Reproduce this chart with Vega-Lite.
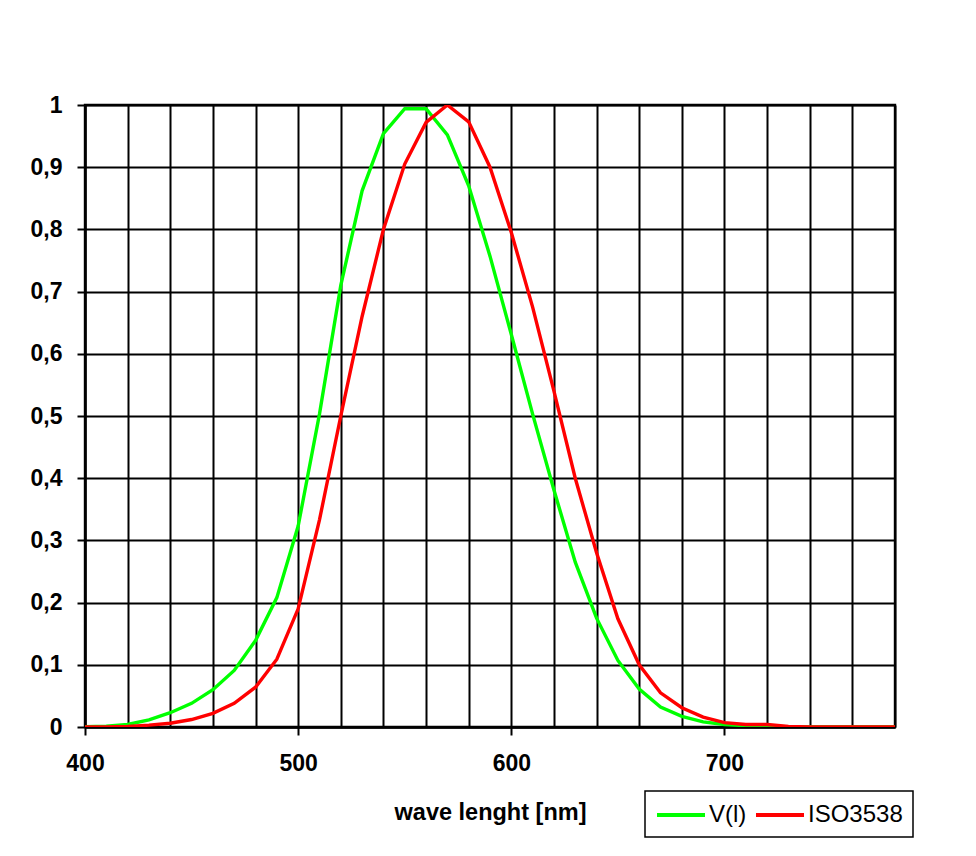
{
  "$schema": "https://vega.github.io/schema/vega-lite/v6.json",
  "width": 810,
  "height": 622,
  "autosize": "none",
  "padding": {"left": 85, "top": 105, "right": 81, "bottom": 129},
  "background": "white",
  "config": {
    "font": "Liberation Sans",
    "view": {"stroke": "black", "strokeWidth": 2.4, "fill": "white"},
    "axis": {
      "domainColor": "black",
      "domainWidth": 2.4,
      "gridColor": "black",
      "gridWidth": 2,
      "gridOpacity": 1,
      "tickColor": "black",
      "tickWidth": 2,
      "tickSize": 8,
      "labelFont": "Liberation Sans",
      "labelFontWeight": "bold",
      "labelFontSize": 23,
      "labelColor": "black",
      "titleFont": "Liberation Sans",
      "titleFontWeight": "bold",
      "titleFontSize": 23.5,
      "titleColor": "black"
    }
  },
  "data": {
    "values": [
      {"wl": 400, "series": "V(l)", "v": 0.0004},
      {"wl": 410, "series": "V(l)", "v": 0.0012},
      {"wl": 420, "series": "V(l)", "v": 0.004},
      {"wl": 430, "series": "V(l)", "v": 0.0116},
      {"wl": 440, "series": "V(l)", "v": 0.023},
      {"wl": 450, "series": "V(l)", "v": 0.038},
      {"wl": 460, "series": "V(l)", "v": 0.06},
      {"wl": 470, "series": "V(l)", "v": 0.091},
      {"wl": 480, "series": "V(l)", "v": 0.139},
      {"wl": 490, "series": "V(l)", "v": 0.208},
      {"wl": 500, "series": "V(l)", "v": 0.323},
      {"wl": 510, "series": "V(l)", "v": 0.503},
      {"wl": 520, "series": "V(l)", "v": 0.71},
      {"wl": 530, "series": "V(l)", "v": 0.862},
      {"wl": 540, "series": "V(l)", "v": 0.954},
      {"wl": 550, "series": "V(l)", "v": 0.994},
      {"wl": 560, "series": "V(l)", "v": 0.994},
      {"wl": 570, "series": "V(l)", "v": 0.952},
      {"wl": 580, "series": "V(l)", "v": 0.87},
      {"wl": 590, "series": "V(l)", "v": 0.757},
      {"wl": 600, "series": "V(l)", "v": 0.631},
      {"wl": 610, "series": "V(l)", "v": 0.503},
      {"wl": 620, "series": "V(l)", "v": 0.381},
      {"wl": 630, "series": "V(l)", "v": 0.265},
      {"wl": 640, "series": "V(l)", "v": 0.175},
      {"wl": 650, "series": "V(l)", "v": 0.107},
      {"wl": 660, "series": "V(l)", "v": 0.061},
      {"wl": 670, "series": "V(l)", "v": 0.032},
      {"wl": 680, "series": "V(l)", "v": 0.017},
      {"wl": 690, "series": "V(l)", "v": 0.0082},
      {"wl": 700, "series": "V(l)", "v": 0.0041},
      {"wl": 710, "series": "V(l)", "v": 0.0021},
      {"wl": 720, "series": "V(l)", "v": 0.001},
      {"wl": 730, "series": "V(l)", "v": 0.0005},
      {"wl": 740, "series": "V(l)", "v": 0.00025},
      {"wl": 750, "series": "V(l)", "v": 0.00012},
      {"wl": 760, "series": "V(l)", "v": 0.00006},
      {"wl": 770, "series": "V(l)", "v": 0.00003},
      {"wl": 780, "series": "V(l)", "v": 0.000015},
      {"wl": 400, "series": "ISO3538", "v": 0},
      {"wl": 410, "series": "ISO3538", "v": 0},
      {"wl": 420, "series": "ISO3538", "v": 0.001},
      {"wl": 430, "series": "ISO3538", "v": 0.003},
      {"wl": 440, "series": "ISO3538", "v": 0.006},
      {"wl": 450, "series": "ISO3538", "v": 0.012},
      {"wl": 460, "series": "ISO3538", "v": 0.022},
      {"wl": 470, "series": "ISO3538", "v": 0.038},
      {"wl": 480, "series": "ISO3538", "v": 0.064},
      {"wl": 490, "series": "ISO3538", "v": 0.109},
      {"wl": 500, "series": "ISO3538", "v": 0.19},
      {"wl": 510, "series": "ISO3538", "v": 0.333},
      {"wl": 520, "series": "ISO3538", "v": 0.5},
      {"wl": 530, "series": "ISO3538", "v": 0.66},
      {"wl": 540, "series": "ISO3538", "v": 0.8},
      {"wl": 550, "series": "ISO3538", "v": 0.905},
      {"wl": 560, "series": "ISO3538", "v": 0.972},
      {"wl": 570, "series": "ISO3538", "v": 1.0},
      {"wl": 580, "series": "ISO3538", "v": 0.973},
      {"wl": 590, "series": "ISO3538", "v": 0.9},
      {"wl": 600, "series": "ISO3538", "v": 0.795},
      {"wl": 610, "series": "ISO3538", "v": 0.675},
      {"wl": 620, "series": "ISO3538", "v": 0.54},
      {"wl": 630, "series": "ISO3538", "v": 0.4},
      {"wl": 640, "series": "ISO3538", "v": 0.28},
      {"wl": 650, "series": "ISO3538", "v": 0.174},
      {"wl": 660, "series": "ISO3538", "v": 0.1},
      {"wl": 670, "series": "ISO3538", "v": 0.055},
      {"wl": 680, "series": "ISO3538", "v": 0.031},
      {"wl": 690, "series": "ISO3538", "v": 0.016},
      {"wl": 700, "series": "ISO3538", "v": 0.007},
      {"wl": 710, "series": "ISO3538", "v": 0.004},
      {"wl": 720, "series": "ISO3538", "v": 0.004},
      {"wl": 730, "series": "ISO3538", "v": 0.001},
      {"wl": 740, "series": "ISO3538", "v": 0},
      {"wl": 750, "series": "ISO3538", "v": 0},
      {"wl": 760, "series": "ISO3538", "v": 0},
      {"wl": 770, "series": "ISO3538", "v": 0},
      {"wl": 780, "series": "ISO3538", "v": 0}
    ]
  },
  "encoding": {
    "x": {
      "field": "wl",
      "type": "quantitative",
      "scale": {"domain": [400, 780], "nice": false, "zero": false},
      "axis": {
        "title": "wave lenght [nm]",
        "values": [400, 420, 440, 460, 480, 500, 520, 540, 560, 580, 600, 620, 640, 660, 680, 700, 720, 740, 760, 780],
        "labelExpr": "datum.value % 100 === 0 && datum.value < 780 ? datum.label : ''",
        "format": "d",
        "tickColor": {"condition": {"test": "datum.value % 100 === 0 && datum.value < 780", "value": "black"}, "value": "transparent"},
        "labelPadding": 17,
        "titlePadding": 25,
        "labelFlush": false
      }
    },
    "y": {
      "field": "v",
      "type": "quantitative",
      "scale": {"domain": [0, 1], "nice": false},
      "axis": {
        "title": null,
        "values": [0, 0.1, 0.2, 0.3, 0.4, 0.5, 0.6, 0.7, 0.8, 0.9, 1],
        "format": ".1~f",
        "labelExpr": "replace(datum.label, '.', ',')",
        "labelPadding": 15,
        "labelFlush": false
      }
    }
  },
  "layer": [
    {
      "transform": [{"filter": "datum.series === 'V(l)'"}],
      "mark": {"type": "line", "strokeWidth": 3.4, "clip": true},
      "encoding": {"color": {"datum": "V(l)"}}
    },
    {
      "transform": [{"filter": "datum.series === 'ISO3538'"}],
      "mark": {"type": "line", "strokeWidth": 3.4, "clip": true},
      "encoding": {
        "color": {
          "datum": "ISO3538",
          "type": "nominal",
          "scale": {"domain": ["V(l)", "ISO3538"], "range": ["#00FF00", "#FF0000"]},
          "legend": {
            "title": null,
            "orient": "none",
            "legendX": 560,
            "legendY": 686,
            "direction": "horizontal",
            "strokeColor": "black",
            "fillColor": "white",
            "padding": 10,
            "symbolType": "M-2,0H2",
            "symbolSize": 576,
            "symbolStrokeWidth": 4,
            "symbolOffset": 12,
            "labelFont": "Liberation Sans",
            "labelFontSize": 24,
            "labelColor": "black",
            "labelOffset": 14,
            "columnPadding": 1,
            "encode": {"legend": {"update": {"strokeWidth": {"value": 1.5}}}}
          }
        }
      }
    }
  ]
}
